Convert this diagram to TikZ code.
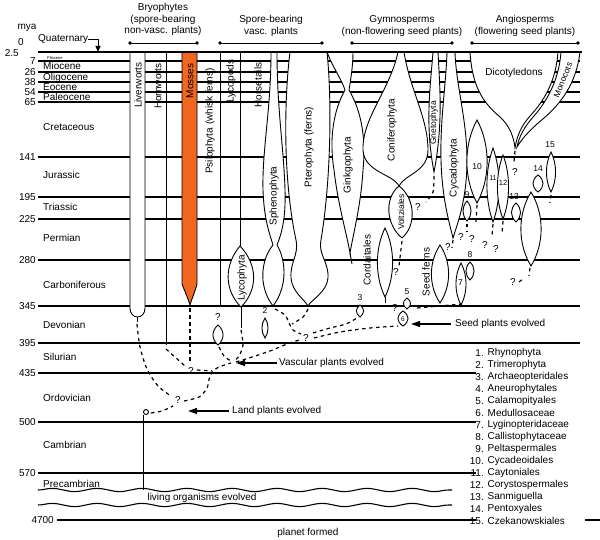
\documentclass[tikz,border=0pt]{standalone}
\usepackage{fontspec}
\setmainfont{Liberation Sans}
\usetikzlibrary{arrows.meta,decorations.pathmorphing}
\definecolor{mossorange}{RGB}{240,104,32}
\begin{document}
\begin{tikzpicture}[x=1pt,y=-1pt,
  txt/.style={font=\fontsize{10}{12}\selectfont, inner sep=0pt},
  vtxt/.style={txt, rotate=90},
  vsm/.style={font=\fontsize{8.5}{10}\selectfont, inner sep=0pt, rotate=90},
  num/.style={font=\fontsize{8.5}{10}\selectfont, inner sep=0pt},
  qm/.style={font=\fontsize{10}{12}\selectfont, inner sep=0pt},
  hl/.style={line width=1.1pt},
  shp/.style={draw, fill=white, line width=0.9pt},
  ln/.style={line width=0.9pt},
  dsh/.style={line width=1.2pt, dash pattern=on 3.5pt off 3.5pt},
  arr/.style={line width=1.2pt, -{Triangle[length=9pt,width=6pt]}},
  br/.style={line width=0.8pt},
  wav/.style={line width=1.1pt, decorate, decoration={snake, amplitude=1.6pt, segment length=45pt}},
  pics/lens/.style n args={2}{code={
    \draw[shp] (0,0) .. controls (-1.35*#1,0.3*#2) and (-1.35*#1,0.7*#2) .. (0,#2) .. controls (1.35*#1,0.7*#2) and (1.35*#1,0.3*#2) .. (0,0) -- cycle;
  }}
]
\useasboundingbox (0,0) rectangle (600,540);
\fill[white] (0,0) rectangle (600,540);

% ---------- horizontal time lines ----------
\foreach \yy in {61,72,82,92,102,157,197,219,260,306,343} \draw[hl] (38,\yy) -- (580,\yy);
\foreach \yy in {373,422,473} \draw[hl] (38,\yy) -- (476,\yy);
\draw[hl] (57,520) -- (476,520);
\draw[hl] (585,520) -- (600,520);
\draw[wav] (38,490) -- (452,490);
\draw[wav] (38,505) -- (452,505);

% ---------- time labels ----------
\node[txt] (mya) at (27,28) {mya};
\node[txt] (t0) at (21,42) {0};
\node[txt, anchor=east] (t25) at (19,53) {2.5};
\foreach \v/\yy in {7/61,26/72,38/82,54/92,65/102,141/157,195/197,225/219,280/260,345/306,395/343,435/373,500/422,570/473}
  \node[txt, anchor=east] (t\v) at (36,\yy) {\v};
\node[txt, anchor=east] (t4700) at (54,520) {4700};

\node[txt, anchor=west] (quat) at (38,39) {Quaternary};
\coordinate (quatpt) at (98,52);
\draw[ln, -{Triangle[length=6pt,width=5pt]}] (quat.east) -- (98,39) -- (quatpt);

\node[font=\fontsize{4}{5}\selectfont, inner sep=0pt, anchor=base west] (plio) at (47,59.5) {Pliocene};
\node[txt, anchor=base west] (mio) at (43,70) {Miocene};
\node[txt, anchor=base west] (oli) at (43,80.5) {Oligocene};
\node[txt, anchor=base west] (eoc) at (43,90.5) {Eocene};
\node[txt, anchor=base west] (pal) at (43,100.5) {Paleocene};
\node[txt, anchor=west] (cre) at (43,127) {Cretaceous};
\node[txt, anchor=west] (jur) at (43,175) {Jurassic};
\node[txt, anchor=west] (tri) at (43,207) {Triassic};
\node[txt, anchor=west] (per) at (43,238) {Permian};
\node[txt, anchor=west] (car) at (43,285) {Carboniferous};
\node[txt, anchor=west] (dev) at (43,325) {Devonian};
\node[txt, anchor=west] (sil) at (43,357) {Silurian};
\node[txt, anchor=west] (ord) at (43,398) {Ordovician};
\node[txt, anchor=west] (cam) at (43,445) {Cambrian};
\node[txt, anchor=west] (pre) at (43,484) {Precambrian};
\node[txt] (living) at (202,498) {living organisms evolved};
\node[txt] (planet) at (308,533) {planet formed};

% ---------- headers ----------
\node[txt] (h1a) at (163,8) {Bryophytes};
\node[txt] (h1b) at (163,19.5) {(spore-bearing};
\node[txt] (h1c) at (163,31) {non-vasc. plants)};
\node[txt] (h2a) at (271,20) {Spore-bearing};
\node[txt] (h2b) at (271,32) {vasc. plants};
\node[txt] (h3a) at (402,20) {Gymnosperms};
\node[txt] (h3b) at (402,32) {(non-flowering seed plants)};
\node[txt] (h4a) at (525,20) {Angiosperms};
\node[txt] (h4b) at (525,32) {(flowering seed plants)};
\foreach \a/\b in {130/197,220/322,352/452,472/578}{
  \draw[br] (\a,43) -- (\b,43);
  \fill (\a,43) circle (1.9);
  \fill (\b,43) circle (1.9);
}

% ---------- Bryophytes ----------
\draw[shp] (130,52) -- (130,308) .. controls (130,320) and (145,320) .. (145,308) -- (145,52);
\draw[ln] (137.5,317) -- (137.5,322);
\draw[ln] (166,52) -- (166,345);
\draw[line width=0.9pt, fill=mossorange] (182,52) -- (182,284) .. controls (185,292) and (188,298) .. (190,305) .. controls (192,298) and (195,292) .. (197,284) -- (197,52);

% ---------- spore-bearing vascular ----------
\draw[ln] (220,52) -- (220,306);
\draw[ln] (240,52) -- (240,246);
\draw[shp] (240,246) .. controls (224,265) and (224,290) .. (241,307) .. controls (258,290) and (258,265) .. (240,246) -- cycle;
\draw[ln] (241,307) -- (241,328);
\draw[shp] (271,52) .. controls (271,110) and (262,150) .. (263,190) .. controls (264,220) and (270,235) .. (273,245) .. controls (262,258) and (257,285) .. (273,306) .. controls (289,285) and (285,258) .. (277,245) .. controls (281,235) and (286,220) .. (285,190) .. controls (284,150) and (277,110) .. (277,52);
\draw[shp] (290,52) .. controls (284,100) and (283,180) .. (296,240) .. controls (299,255) and (290,262) .. (291,278) .. controls (292,292) and (305,300) .. (308,306) .. controls (311,300) and (327,292) .. (328,278) .. controls (329,262) and (318,255) .. (321,240) .. controls (331,180) and (332,100) .. (327,52);

% ---------- gymnosperms ----------
\draw[shp] (327,52) .. controls (333,68) and (342,80) .. (345,90) .. controls (331,115) and (330,145) .. (334,170) .. controls (338,205) and (347,235) .. (350,253) .. controls (353,235) and (361,205) .. (363,170) .. controls (366,140) and (362,112) .. (349,90) .. controls (351,78) and (353,65) .. (353,52);
\draw[ln] (350,253) -- (352,264);
\draw[shp] (398,52) .. controls (390,90) and (362,118) .. (363,150) .. controls (364,172) and (393,174) .. (399,186) .. controls (405,174) and (428,172) .. (428,150) .. controls (428,118) and (410,90) .. (404,52);
\draw[shp] (399,186) .. controls (384,198) and (386,225) .. (402,238) .. controls (417,225) and (415,198) .. (399,186) -- cycle;
\draw[shp] (433,52) .. controls (430,90) and (425,125) .. (434,172) .. controls (443,125) and (440,90) .. (438,52);
\draw[shp] (447,52) .. controls (446,85) and (440,120) .. (441,160) .. controls (442,200) and (450,225) .. (453,238) .. controls (457,225) and (467,200) .. (467,160) .. controls (467,120) and (456,85) .. (455,52);

% ---------- angiosperms ----------
\draw[shp] (470,52) .. controls (472,85) and (482,102) .. (500,117) .. controls (510,126) and (514,138) .. (515,148) .. controls (517,135) and (522,125) .. (530,116) .. controls (545,100) and (556,80) .. (558,52);
\draw[shp] (561,52) .. controls (559,80) and (547,101) .. (534,116) .. controls (524,127) and (519,137) .. (517,147) .. controls (523,137) and (532,128) .. (544,118) .. controls (560,104) and (576,85) .. (580,52);

% ---------- small lineages ----------
\pic at (385,228) {lens={7.5}{69}};
\draw[ln] (385,297) -- (385,303);
\pic at (360,305) {lens={3.5}{12}};
\pic at (407,298) {lens={3.5}{11}};
\pic at (403,311) {lens={5}{15}};
\pic at (265,318) {lens={3}{20}};
\pic at (218,325) {lens={5}{20}};
\pic at (440,245) {lens={8.5}{58}};
\pic at (461,263) {lens={5}{42}};
\pic at (470,262) {lens={4}{18}};
\pic at (467,201) {lens={4}{20}};
\pic at (477,120) {lens={10}{83}};
\pic at (493,148) {lens={6}{74}};
\pic at (503,155) {lens={5.5}{64}};
\pic at (516,203) {lens={4.5}{19}};
\pic at (531,192) {lens={10}{74}};
\pic at (538,175) {lens={5}{17}};
\pic at (551,152) {lens={4.5}{40}};

\draw[line width=2pt] (38,52) -- (582,52);

% ---------- lineage labels ----------
\node[vtxt] (liv) at (138,85) {Liverworts};
\node[vtxt] (horn) at (158,86) {Hornworts};
\node[vtxt] (moss) at (190,81) {Mosses};
\node[vtxt] (psil) at (210,121) {Psilophyta (whisk ferns)};
\node[vtxt] (lycd) at (231,81) {Lycopods};
\node[vtxt] (hors) at (258,85) {Horsetails};
\node[vtxt] (lyco) at (242,278) {Lycophyta};
\node[vtxt] (sphe) at (274,196) {Sphenophyta};
\node[vtxt] (pter) at (309,147) {Pterophyta (ferns)};
\node[vtxt] (gink) at (348,165) {Ginkgophyta};
\node[vtxt] (coni) at (392,130) {Coniferophyta};
\node[vsm] (volt) at (401,212) {Voltziales};
\node[vsm] (gnet) at (434,123) {Gnetophyta};
\node[vtxt] (cyca) at (454,168) {Cycadophyta};
\node[vtxt] (cord) at (367,260) {Cordaitales};
\node[vtxt] (seedf) at (426,272) {Seed ferns};
\node[txt] (dico) at (514,73) {Dicotyledons};
\node[font=\fontsize{8.5}{10}\selectfont, inner sep=0pt, rotate=68] (mono) at (563,80) {Monocots};

% ---------- numbers ----------
\node[num] (n2) at (265,311) {2};
\node[num] (n3) at (360,298) {3};
\node[num] (n5) at (407,292) {5};
\node[font=\fontsize{6.5}{7}\selectfont, inner sep=0pt] (n6) at (403,319) {6};
\node[num] (n7) at (460.5,283) {7};
\node[num] (n8) at (470,255) {8};
\node[num] (n9) at (467,195) {9};
\node[num] (n10) at (477,167) {10};
\node[font=\fontsize{7}{8}\selectfont, inner sep=0pt] (n11) at (493,178) {11};
\node[font=\fontsize{7.5}{8}\selectfont, inner sep=0pt] (n12) at (503,183) {12};
\node[num] (n13) at (514,197) {13};
\node[num] (n14) at (538,169) {14};
\node[num] (n15) at (550,145) {15};

% ---------- question marks ----------
\foreach \qx/\qy [count=\k] in {515/172,461/237,472/239,485/245,496/249,418/207,448/247,396/272,513/282,395/308,218/317,306/338,178/400,191/371}
  \node[qm] (q\k) at (\qx,\qy) {?};

% ---------- dashed lineages ----------
\draw[dsh] plot[smooth] coordinates {(137,324) (140,347) (147,369) (158,386) (171,396)};
\draw[dsh] plot[smooth] coordinates {(151,413) (162,411) (173,406)};
\draw[dsh] plot[smooth] coordinates {(184,401) (199,397) (207,388) (210,376) (217,368) (231,363)};
\draw[dsh] (166,349) -- (185,366);
\draw[dsh] (190,308) -- (190,362);
\draw[dsh] (197,370) -- (212,371);
\draw[dsh] plot[smooth] coordinates {(241,330) (243,345) (239,356) (234,361)};
\draw[dsh] plot[smooth] coordinates {(219,347) (224,356) (231,361)};
\draw[dsh] plot[smooth] coordinates {(236,362) (252,357) (270,351) (287,344) (299,340)};
\draw[dsh] plot[smooth] coordinates {(275,309) (285,315) (289,323) (293,330) (301,334)};
\draw[dsh] plot[smooth] coordinates {(308,309) (303,317) (292,324)};
\draw[dsh] plot[smooth] coordinates {(313,333) (330,328) (346,324) (357,318)};
\draw[dsh] plot[smooth] coordinates {(314,338) (340,332) (370,328) (398,326)};
\draw[dsh] (417,308) -- (462,304);
\draw[dsh] (402,241) -- (399,266);
\draw[dsh] plot[smooth] coordinates {(434,176) (433,192) (426,202)};
\draw[dsh] (477,205) -- (476,222);
\draw[dsh] (493,224) -- (492,236);
\draw[dsh] (503,221) -- (502,233);
\draw[dsh] (467,224) -- (467,232);
\draw[dsh] (551,195) -- (550,203);
\draw[dsh] (515,151) -- (514,162);
\draw[dsh] (530,268) -- (529,276);
\draw[dsh] (519,282) -- (524,278);
\draw[dsh] (453,240) -- (452,248);

% ---------- land plant origin ----------
\node[circle, draw, line width=0.9pt, inner sep=0pt, minimum size=5pt] (origin) at (146,412) {};
\coordinate (wavetop) at (143,490);
\draw[ln] (143,415) -- (wavetop);

% ---------- event arrows ----------
\node[txt, anchor=west] (vasc) at (279,363) {Vascular plants evolved};
\coordinate (vascpt) at (236,363);
\draw[arr] ([xshift=-2pt]vasc.west) -- (vascpt);
\node[txt, anchor=west] (land) at (232,411) {Land plants evolved};
\coordinate (landpt) at (188,411);
\draw[arr] ([xshift=-3pt]land.west) -- (landpt);
\node[txt, anchor=west] (seedev) at (455,324) {Seed plants evolved};
\coordinate (seedpt) at (411,324);
\draw[arr] ([xshift=-4pt]seedev.west) -- (seedpt);

% ---------- list ----------
\foreach \i/\nm in {1/Rhynophyta,2/Trimerophyta,3/Archaeopteridales,4/Aneurophytales,5/Calamopityales,6/Medullosaceae,7/Lyginopteridaceae,8/Callistophytaceae,9/Peltaspermales,10/Cycadeoidales,11/Caytoniales,12/Corystospermales,13/Sanmiguella,14/Pentoxyales,15/Czekanowskiales}{
  \node[txt, anchor=east] (li\i) at (484,{353+12*(\i-1)}) {\i.};
  \node[txt, anchor=west] (lt\i) at (487.5,{353+12*(\i-1)}) {\nm};
}
\end{tikzpicture}
\end{document}
